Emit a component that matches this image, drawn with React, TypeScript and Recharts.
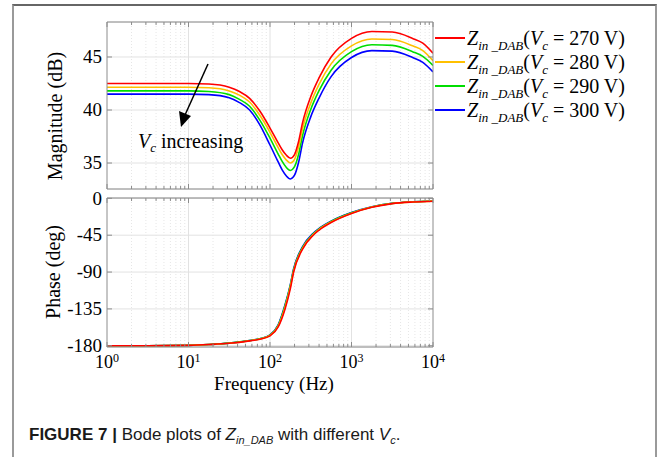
import React from 'react';
import { LineChart, Line, XAxis, YAxis, CartesianGrid, ReferenceLine, Legend } from 'recharts';

// ---------- data ----------
const magFreqs = [1, 3.16, 10, 17.8, 31.6, 42.2, 56.2, 75, 100, 126, 141, 158, 178, 200, 224, 251, 316, 398, 562, 1000, 1778, 3162, 5623, 7499, 10000];
const mag270 = [42.5, 42.5, 42.5, 42.45, 42.15, 41.75, 41.1, 39.9, 38.3, 36.9, 36.25, 35.75, 35.45, 35.8, 37.0, 38.8, 41.25, 43.0, 45.0, 46.75, 47.4, 47.35, 46.75, 46.3, 45.35];
const mag280 = [42.15, 42.15, 42.15, 42.1, 41.8, 41.4, 40.75, 39.5, 37.9, 36.45, 35.8, 35.3, 35.0, 35.35, 36.5, 38.25, 40.65, 42.4, 44.35, 46.05, 46.7, 46.65, 46.05, 45.6, 44.65];
const mag290 = [41.8, 41.8, 41.8, 41.75, 41.45, 41.0, 40.35, 39.05, 37.35, 35.85, 35.15, 34.6, 34.3, 34.65, 35.8, 37.6, 40.05, 41.8, 43.75, 45.5, 46.15, 46.1, 45.5, 45.05, 44.2];
const mag300 = [41.5, 41.5, 41.5, 41.45, 41.15, 40.7, 40.0, 38.6, 36.7, 35.1, 34.35, 33.8, 33.5, 33.85, 35.05, 36.9, 39.35, 41.1, 43.15, 44.95, 45.6, 45.55, 44.95, 44.5, 43.6];

const phaseFreqs = [1, 3.16, 10, 17.8, 31.6, 56.2, 75, 100, 126, 153, 178, 195, 251, 339, 398, 562, 1000, 1778, 3162, 5623, 10000];
const phase270 = [-180, -180, -179.5, -178.5, -177, -174, -172, -168, -157, -135, -110, -90, -62, -45, -39, -29.5, -18.5, -11, -6.5, -4.5, -3.5];
const phase280 = [-180, -180, -179.5, -178.5, -176.9, -173.8, -171.7, -167.5, -156, -133, -107.5, -88.5, -61, -44.2, -38.2, -28.9, -18.1, -10.7, -6.3, -4.4, -3.4];
const phase290 = [-180, -180, -179.5, -178.5, -176.8, -173.7, -171.5, -167, -155, -131, -106, -87, -60, -43.4, -37.5, -28.3, -17.7, -10.5, -6.2, -4.3, -3.3];
const phase300 = [-180, -180, -179.5, -178.5, -176.8, -173.6, -171.4, -166.8, -154.5, -130, -105, -86, -59, -42.7, -37, -27.9, -17.4, -10.3, -6.1, -4.3, -3.3];

const seriesKeys = ['v270', 'v280', 'v290', 'v300'];
const seriesVolts = ['270', '280', '290', '300'];
const seriesColors = ['#ff0000', '#ffc000', '#00dd00', '#0000ff'];

const decadeTicks = [1, 10, 100, 1000, 10000];
const innerDecades = [10, 100, 1000];
const minorTicks = [2, 3, 4, 5, 6, 7, 8, 9, 20, 30, 40, 50, 60, 70, 80, 90, 200, 300, 400, 500, 600, 700, 800, 900, 2000, 3000, 4000, 5000, 6000, 7000, 8000, 9000];
const allXTicks = [...decadeTicks, ...minorTicks].sort((a, b) => a - b);
const magTicks = [35, 40, 45];
const phaseTicks = [-180, -135, -90, -45, 0];

const magData = magFreqs.map((f, i) => ({ f, v270: mag270[i], v280: mag280[i], v290: mag290[i], v300: mag300[i] }));
const phaseData = phaseFreqs.map((f, i) => ({ f, v270: phase270[i], v280: phase280[i], v290: phase290[i], v300: phase300[i] }));

// ---------- styles ----------
const SERIF = '"Liberation Serif", "Times New Roman", serif';
const BOX = '#8c8c8c';
const GRID = '#e2e2e2';
const MINOR = '#e6e6e6';

const XTick = (props: any) => {
  const { x, y, payload, side, showLabel } = props;
  const v = payload.value;
  const major = decadeTicks.includes(v);
  const len = major ? 5 : 3;
  const dir = side === 'bottom' ? -1 : 1;
  const exp = Math.round(Math.log10(v));
  return (
    <g>
      <line x1={x} x2={x} y1={y} y2={y + dir * len} stroke={BOX} strokeWidth={1} />
      {showLabel && major ? (
        <text x={x} y={y + 21} textAnchor="middle" fontFamily={SERIF} fontSize={18} fill="#000">
          10<tspan dy={-6} fontSize={12}>{exp}</tspan>
        </text>
      ) : null}
    </g>
  );
};

const YTick = (props: any) => {
  const { x, y, payload, side } = props;
  const dir = side === 'left' ? 1 : -1;
  return (
    <g>
      <line x1={x} x2={x + dir * 5} y1={y} y2={y} stroke={BOX} strokeWidth={1} />
      {side === 'left' ? (
        <text x={x - 5} y={y} dy="0.33em" textAnchor="end" fontFamily={SERIF} fontSize={19} fill="#000">
          {payload.value}
        </text>
      ) : null}
    </g>
  );
};

const LegendContent = (props: any) => {
  const payload = (props.payload || []).slice().sort((a: any, b: any) => String(a.value).localeCompare(String(b.value)));
  return (
    <svg width={230} height={110} style={{ display: 'block', overflow: 'visible' }}>
      {payload.map((it: any, i: number) => {
        const ly = 16 + i * 24;
        return (
          <g key={it.value}>
            <line x1={3} x2={33} y1={ly} y2={ly} stroke={it.color} strokeWidth={2} />
            <text x={35} y={ly + 7} fontFamily={SERIF} fontSize={20} fill="#000">
              <tspan fontStyle="italic">Z</tspan>
              <tspan fontStyle="italic" fontSize={13} dy={5}>in _DAB</tspan>
              <tspan dy={-5}>(</tspan>
              <tspan fontStyle="italic">V</tspan>
              <tspan fontStyle="italic" fontSize={13} dy={5}>c</tspan>
              <tspan dy={-5}>{` = ${it.value} V)`}</tspan>
            </text>
          </g>
        );
      })}
    </svg>
  );
};

const renderOrder = [3, 2, 1, 0];

const gridLines = () => [
  ...minorTicks.map((v) => (
    <ReferenceLine key={'m' + v} x={v} stroke={MINOR} strokeDasharray="1 2" strokeWidth={1} />
  )),
  ...innerDecades.map((v) => <ReferenceLine key={'d' + v} x={v} stroke={GRID} strokeWidth={1} />),
];

const xAxisCommon = {
  dataKey: 'f',
  type: 'number' as const,
  scale: 'log' as const,
  domain: [1, 10000],
  ticks: allXTicks,
  interval: 0,
  height: 1,
  tickSize: 0,
  tickMargin: 0,
  tickLine: false,
  stroke: BOX,
  allowDataOverflow: true,
};

const yAxisCommon = {
  type: 'number' as const,
  width: 1,
  tickSize: 0,
  tickMargin: 0,
  tickLine: false,
  stroke: BOX,
  allowDataOverflow: true,
  interval: 0,
};

export default function App() {
  return (
    <div style={{ position: 'absolute', left: 0, top: 0, width: 665, height: 457, background: '#fff', overflow: 'hidden' }}>
      <div
        style={{
          position: 'absolute',
          left: 12,
          top: 4,
          width: 641,
          height: 470,
          borderTop: '2px solid #666',
          borderLeft: '2px solid #9a9a9a',
          borderRight: '2px solid #9a9a9a',
        }}
      />
      {/* Magnitude plot */}
      <div style={{ position: 'absolute', left: 0, top: 0 }}>
        <LineChart width={665} height={195} data={magData} margin={{ top: 21, right: 231, bottom: 5, left: 106 }}>
          <CartesianGrid vertical={false} stroke={GRID} />
          {gridLines()}
          <XAxis {...xAxisCommon} tick={(p: any) => <XTick {...p} side="bottom" showLabel={false} />} />
          <XAxis {...xAxisCommon} xAxisId="t" orientation="top" tick={(p: any) => <XTick {...p} side="top" showLabel={false} />} />
          <YAxis {...yAxisCommon} domain={[32.55, 48.3]} ticks={magTicks} tick={(p: any) => <YTick {...p} side="left" />} />
          <YAxis {...yAxisCommon} yAxisId="r" orientation="right" domain={[32.55, 48.3]} ticks={magTicks} tick={(p: any) => <YTick {...p} side="right" />} />
          {renderOrder.map((i) => (
            <Line
              key={seriesKeys[i]}
              dataKey={seriesKeys[i]}
              name={seriesVolts[i]}
              stroke={seriesColors[i]}
              strokeWidth={1.6}
              dot={false}
              type="monotone"
              isAnimationActive={false}
            />
          ))}
          <Legend
            layout="horizontal"
            align="center"
            verticalAlign="middle"
            content={<LegendContent />}
            wrapperStyle={{ left: 432, top: 22, width: 230, height: 110 }}
          />
        </LineChart>
      </div>
      {/* Phase plot */}
      <div style={{ position: 'absolute', left: 0, top: 175 }}>
        <LineChart width={665} height={215} data={phaseData} margin={{ top: 22, right: 231, bottom: 42, left: 106 }}>
          <CartesianGrid vertical={false} stroke={GRID} />
          {gridLines()}
          <XAxis {...xAxisCommon} tick={(p: any) => <XTick {...p} side="bottom" showLabel={true} />} />
          <XAxis {...xAxisCommon} xAxisId="t" orientation="top" tick={(p: any) => <XTick {...p} side="top" showLabel={false} />} />
          <YAxis {...yAxisCommon} domain={[-181.5, 0.4]} ticks={phaseTicks} tick={(p: any) => <YTick {...p} side="left" />} />
          <YAxis {...yAxisCommon} yAxisId="r" orientation="right" domain={[-181.5, 0.4]} ticks={phaseTicks} tick={(p: any) => <YTick {...p} side="right" />} />
          {renderOrder.map((i) => (
            <Line
              key={seriesKeys[i]}
              dataKey={seriesKeys[i]}
              name={seriesVolts[i]}
              stroke={seriesColors[i]}
              strokeWidth={1.6}
              dot={false}
              type="monotone"
              isAnimationActive={false}
            />
          ))}
        </LineChart>
      </div>
      {/* Titles and annotation */}
      <svg width={665} height={457} style={{ position: 'absolute', left: 0, top: 0, pointerEvents: 'none' }}>
        <text transform="translate(62,116) rotate(-90)" textAnchor="middle" fontFamily={SERIF} fontSize={20} fill="#000">
          Magnitude (dB)
        </text>
        <text transform="translate(60,272) rotate(-90)" textAnchor="middle" fontFamily={SERIF} fontSize={20} fill="#000">
          Phase (deg)
        </text>
        <text x={274} y={390} textAnchor="middle" fontFamily={SERIF} fontSize={19} fill="#000">
          Frequency (Hz)
        </text>
        <line x1={208} y1={64} x2={185} y2={115} stroke="#000" strokeWidth={1.5} />
        <polygon points="181,127 179,111 191,116" fill="#000" />
        <text x={138} y={148} fontFamily={SERIF} fontSize={20} fill="#000">
          <tspan fontStyle="italic">V</tspan>
          <tspan fontStyle="italic" fontSize={13} dy={4}>c</tspan>
          <tspan dy={-4}> increasing</tspan>
        </text>
      </svg>
      {/* Caption */}
      <div
        style={{
          position: 'absolute',
          left: 29,
          top: 425,
          fontFamily: '"Liberation Sans", Arial, sans-serif',
          fontSize: 17,
          lineHeight: '20px',
          color: '#1a1a1a',
          whiteSpace: 'nowrap',
        }}
      >
        <b>FIGURE 7</b> <b>|</b> Bode plots of <i>Z</i>
        <sub style={{ fontSize: 11, lineHeight: 0 }}>
          <i>in_DAB</i>
        </sub>{' '}
        with different <i>V</i>
        <sub style={{ fontSize: 11, lineHeight: 0 }}>
          <i>c</i>
        </sub>
        .
      </div>
    </div>
  );
}
